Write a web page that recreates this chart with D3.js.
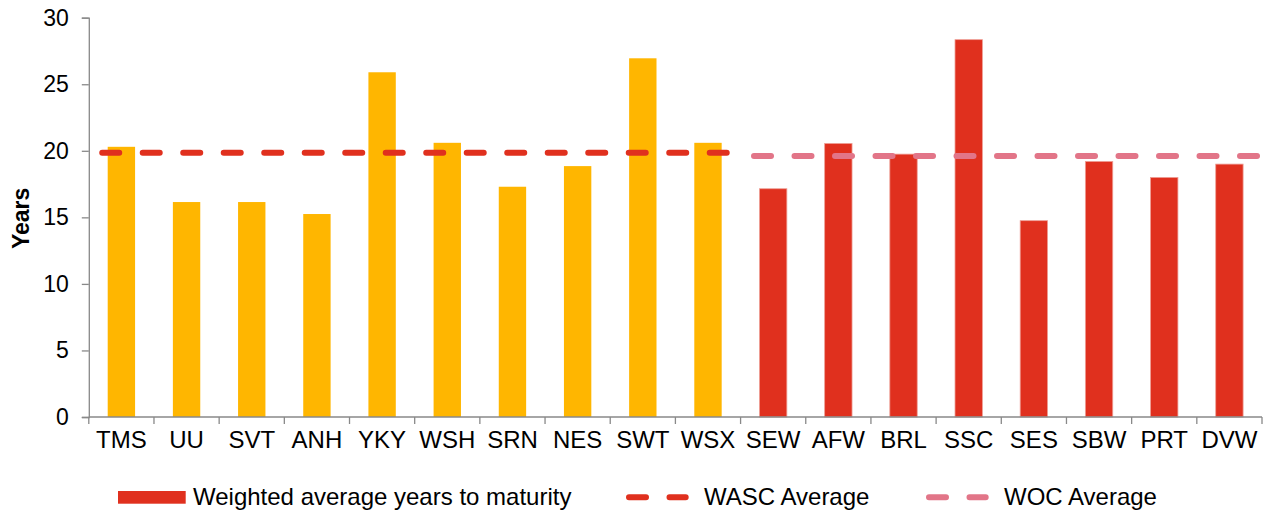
<!DOCTYPE html>
<html>
<head>
<meta charset="utf-8">
<script src="https://cdn.jsdelivr.net/npm/d3@7"></script>
<style>
  html, body { margin: 0; padding: 0; background: #fff; }
  svg { display: block; font-family: Arial, "Liberation Sans", sans-serif; }
</style>
</head>
<body>
<svg id="chart" width="1271" height="513"></svg>
<script>
// Companies, grouped: water and sewerage companies first, then water-only companies
const companies = ["TMS","UU","SVT","ANH","YKY","WSH","SRN","NES","SWT","WSX",
                   "SEW","AFW","BRL","SSC","SES","SBW","PRT","DVW"];
const groups = ["WASC","WASC","WASC","WASC","WASC","WASC","WASC","WASC","WASC","WASC",
                "WOC","WOC","WOC","WOC","WOC","WOC","WOC","WOC"];
// Weighted average years to maturity
const yearsToMaturity = [20.3,16.15,16.15,15.25,25.9,20.6,17.3,18.85,26.95,20.6,
                         17.15,20.55,19.75,28.35,14.75,19.2,18.0,19.0];
// Group averages
const averageNames = ["WASC","WOC"];
const averageValues = [19.85,19.6];
const averageLabels = ["WASC Average","WOC Average"];
const yTicks = [0,5,10,15,20,25,30];
const yTitle = "Years";
const barLegendLabel = "Weighted average years to maturity";

const colors = { WASC: "#FFB600", WOC: "#E0301E" };
const lineColors = { WASC: "#E0301E", WOC: "#E27588" };
const axisColor = "#898989";
const fontSize = 23;
const labelSize = 24;

const svg = d3.select("#chart");
const plot = { left: 88.8, right: 1262, top: 17.7, bottom: 417 };

const x = d3.scaleBand().domain(companies).range([plot.left, plot.right]).padding(0);
const y = d3.scaleLinear().domain([0, 30]).range([plot.bottom, plot.top]);
const bw = x.bandwidth();
const barW = bw * 0.42;

// Bars
svg.append("g").selectAll("rect")
  .data(companies.map((c, i) => ({ c, g: groups[i], v: yearsToMaturity[i] })))
  .join("rect")
  .attr("x", d => x(d.c) + (bw - barW) / 2)
  .attr("width", barW)
  .attr("y", d => y(d.v))
  .attr("height", d => y(0) - y(d.v))
  .attr("fill", d => colors[d.g])
  .attr("stroke", d => d.g === "WOC" ? "#EE9E95" : "none")
  .attr("stroke-width", 0.8);

// Dashed average lines, one per group
const dash = "17 23.5";
const lineW = 6;
averageNames.forEach((g, i) => {
  const members = companies.filter((c, k) => groups[k] === g);
  const x0 = x(members[0]) + bw * 0.16 + lineW / 2;
  const x1 = x(members[members.length - 1]) + bw;
  svg.append("path")
    .attr("d", d3.line()([[x0, y(averageValues[i])], [x1, y(averageValues[i])]]))
    .attr("stroke", lineColors[g])
    .attr("stroke-width", lineW)
    .attr("stroke-linecap", "round")
    .attr("stroke-dasharray", dash)
    .attr("fill", "none");
});

// Y axis
const yAxis = svg.append("g")
  .attr("transform", `translate(${plot.left},0)`)
  .call(d3.axisLeft(y).tickValues(yTicks).tickSize(7).tickPadding(13).tickFormat(d3.format("d")));
yAxis.select(".domain").attr("stroke", axisColor).attr("stroke-width", 1.3);
yAxis.selectAll(".tick line").attr("stroke", axisColor).attr("stroke-width", 1.3);
yAxis.selectAll("text").attr("font-size", fontSize).attr("fill", "#000")
  .attr("font-family", "Arial, 'Liberation Sans', sans-serif");

// X axis: labels at band centres, tick marks at band boundaries
const xAxis = svg.append("g")
  .attr("transform", `translate(0,${plot.bottom})`)
  .call(d3.axisBottom(x).tickSize(0).tickPadding(14));
xAxis.select(".domain").remove();
xAxis.selectAll("text").attr("font-size", labelSize).attr("fill", "#000")
  .attr("font-family", "Arial, 'Liberation Sans', sans-serif");
svg.append("line")
  .attr("x1", plot.left).attr("x2", plot.right)
  .attr("y1", plot.bottom).attr("y2", plot.bottom)
  .attr("stroke", axisColor).attr("stroke-width", 1.3);
svg.append("g").selectAll("line")
  .data(companies.map(c => x(c)).concat([x(companies[companies.length - 1]) + bw]))
  .join("line")
  .attr("x1", d => d).attr("x2", d => d)
  .attr("y1", plot.bottom).attr("y2", plot.bottom + 7)
  .attr("stroke", axisColor).attr("stroke-width", 1.3);

// Y axis title
svg.append("text")
  .attr("transform", `translate(29,${(plot.top + plot.bottom) / 2 + 1}) rotate(-90)`)
  .attr("text-anchor", "middle")
  .attr("font-size", fontSize).attr("font-weight", "bold")
  .text(yTitle);

// Legend
const legY = 497.3;
const legend = svg.append("g");
legend.append("rect")
  .attr("x", 118).attr("y", legY - 6.3).attr("width", 67.7).attr("height", 12.7)
  .attr("fill", colors.WOC);
legend.append("text")
  .attr("x", 193).attr("y", legY + 7.8)
  .attr("font-size", labelSize).text(barLegendLabel);

const lineLegendX = [626, 926];
averageNames.forEach((g, i) => {
  const lx = lineLegendX[i];
  legend.append("path")
    .attr("d", d3.line()([[lx + 3, legY], [lx + 62.7 - 3, legY]]))
    .attr("stroke", lineColors[g])
    .attr("stroke-width", lineW)
    .attr("stroke-linecap", "round")
    .attr("stroke-dasharray", dash)
    .attr("fill", "none");
  legend.append("text")
    .attr("x", lx + 78).attr("y", legY + 7.8)
    .attr("font-size", labelSize).text(averageLabels[i]);
});
</script>
</body>
</html>
